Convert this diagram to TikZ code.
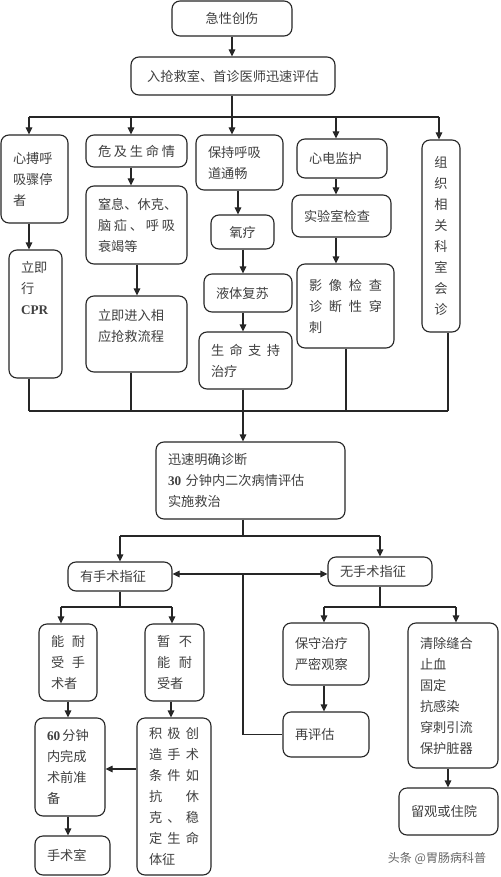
\documentclass[tikz,border=0pt]{standalone}
\usepackage{fontspec}
\setmainfont{Noto Sans CJK SC}
\newfontfamily\latserif{Liberation Serif}
\usetikzlibrary{arrows.meta}
\newcommand\J[1]{\makebox[\linewidth][s]{#1}}
\newcommand\lat[1]{{\latserif\bfseries #1}}
\tikzset{
  >={Triangle[length=7pt,width=6.5pt]},
  box/.style={draw=black!85, line width=1.1pt, rounded corners=8pt, inner xsep=12pt, inner ysep=0pt,
    font=\fontsize{13.2}{21}\selectfont, text=black!75, align=left},
  ln/.style={draw=black!85, line width=1.1pt},
  arr/.style={ln, ->},
}
\begin{document}
\begin{tikzpicture}[x=1pt,y=-1pt]
\useasboundingbox[fill=white] (0,0) rectangle (500,877);
% top
\node[box, minimum width=120pt, minimum height=35pt, align=center, text width=96pt] (a) at (232,18.5) {急性创伤};
\node[box, minimum width=204pt, minimum height=38pt, align=center, text width=180pt] (b) at (233,76) {入抢救室、首诊医师迅速评估};
% column 1
\node[box, minimum width=67pt, minimum height=88pt, text width=43pt] (c1) at (34.5,179) {心搏呼\\吸骤停\\者};
\node[box, minimum width=53pt, minimum height=128pt, text width=29pt] (d1) at (35.5,314) {立即\\行\\\lat{CPR}\rule[-52pt]{0pt}{52pt}};
% column 2
\node[box, minimum width=101pt, minimum height=32pt, text width=77pt] (c2) at (136.5,151) {\J{危\hfil 及\hfil 生\hfil 命\hfil 情}};
\node[box, minimum width=101pt, minimum height=78pt, text width=77pt] (e2) at (136.5,225) {窒息、休克、\\\J{脑\hfil 疝\hfil 、\hfil 呼\hfil 吸}\\衰竭等};
\node[box, minimum width=101pt, minimum height=76pt, text width=77pt] (f2) at (136.5,334) {立即进入相\\应抢救流程\rule[-18pt]{0pt}{18pt}};
% column 3
\node[box, minimum width=87pt, minimum height=55pt, text width=63pt] (c3) at (239.5,162.5) {保持呼吸\\道通畅};
\node[box, minimum width=63pt, minimum height=34pt, text width=39pt, align=center] (g3) at (242.5,232) {氧疗};
\node[box, minimum width=88pt, minimum height=38pt, text width=64pt] (h3) at (248,293) {液体复苏};
\node[box, minimum width=93pt, minimum height=57pt, text width=69pt] (i3) at (245.5,360.5) {\J{生\hfil 命\hfil 支\hfil 持}\\治疗};
% column 4
\node[box, minimum width=90pt, minimum height=39pt, text width=66pt] (c4) at (342,158.5) {心电监护};
\node[box, minimum width=99pt, minimum height=42pt, text width=75pt] (j4) at (341.5,216) {实验室检查};
\node[box, minimum width=97pt, minimum height=84pt, text width=73pt] (k4) at (345.5,306) {\J{影\hfil 像\hfil 检\hfil 查}\\\J{诊\hfil 断\hfil 性\hfil 穿}\\刺};
% column 5
\node[box, minimum width=38pt, minimum height=192pt, text width=20pt, inner xsep=9pt, align=center] (c5) at (441,236) {组\\织\\相\\关\\科\\室\\会\\诊};
% diagnosis
\node[box, minimum width=189pt, minimum height=77pt, text width=165pt] (diag) at (250.5,480.5) {迅速明确诊断\\\lat{30} 分钟内二次病情评估\\实施救治};
\node[box, minimum width=104pt, minimum height=29pt, text width=80pt] (yes) at (120,576.5) {有手术指征};
\node[box, minimum width=104pt, minimum height=29pt, text width=80pt] (no) at (380,571.5) {无手术指征};
% lower left
\node[box, minimum width=58pt, minimum height=77pt, text width=34pt] (n1) at (68,662.5) {\J{能\hfil 耐}\\\J{受\hfil 手}\\术者};
\node[box, minimum width=59pt, minimum height=77pt, text width=35pt] (n2) at (174.5,662.5) {\J{暂\hfil 不}\\\J{能\hfil 耐}\\受者};
\node[box, minimum width=70pt, minimum height=98pt, text width=46pt] (p1) at (70,767) {\lat{60}\,分钟\\内完成\\术前准\\备};
\node[box, minimum width=74pt, minimum height=157pt, text width=50pt] (p2) at (174,796.5) {\J{积\hfil 极\hfil 创}\\\J{造\hfil 手\hfil 术}\\\J{条\hfil 件\hfil 如}\\\J{抗\hfil 休}\\\J{克\hfil 、\hfil 稳}\\\J{定\hfil 生\hfil 命}\\体征};
\node[box, minimum width=75pt, minimum height=39pt, text width=51pt] (q1) at (72.5,855.5) {手术室};
% lower right
\node[box, minimum width=86pt, minimum height=62pt, text width=62pt] (s1) at (326,654) {保守治疗\\严密观察};
\node[box, minimum width=86pt, minimum height=45pt, text width=62pt] (s2) at (326,734.5) {再评估};
\node[box, minimum width=90pt, minimum height=145pt, text width=66pt] (t1) at (453,695.5) {清除缝合\\止血\\固定\\抗感染\\穿刺引流\\保护脏器};
\node[box, minimum width=99pt, minimum height=47pt, text width=75pt] (t2) at (448.5,811.5) {留观或住院};
\node[font=\fontsize{12}{14}\selectfont, text=black!60, inner sep=0pt] (wm) at (437,858) {头条 @胃肠病科普};
% coordinates
\coordinate (H1) at (0,117);
\coordinate (H2) at (0,411);
\coordinate (H3) at (0,536);
\coordinate (H4) at (0,574);
\coordinate (H5) at (0,607);
\coordinate (Y1) at (0,769);
\coordinate (X1) at (29,0);
\coordinate (X2) at (131,0);
\coordinate (X2b) at (137,0);
\coordinate (X3) at (232,0);
\coordinate (X3b) at (238,0);
\coordinate (X3c) at (243,0);
\coordinate (X4) at (336,0);
\coordinate (X4b) at (346,0);
\coordinate (X5) at (439,0);
\coordinate (X5b) at (448,0);
\coordinate (X7) at (61,0);
\coordinate (X8) at (172,0);
\coordinate (X10) at (171,0);
\coordinate (X12) at (324,0);
\coordinate (X13) at (456,0);
\coordinate (M) at (243,574);
% top connectors
\draw[arr] (a.south -| X3) -- (b.north -| X3);
\draw[ln] (b.south -| X3) -- (H1 -| X3);
\draw[ln] (H1 -| X1) -- (H1 -| X5);
\draw[arr] (H1 -| X1) -- (c1.north -| X1);
\draw[arr] (H1 -| X2) -- (c2.north -| X2);
\draw[arr] (H1 -| X3) -- (c3.north -| X3);
\draw[arr] (H1 -| X4) -- (c4.north -| X4);
\draw[arr] (H1 -| X5) -- (c5.north -| X5);
% columns
\draw[arr] (c1.south -| X1) -- (d1.north -| X1);
\draw[arr] (c2.south -| X2) -- (e2.north -| X2);
\draw[arr] (e2.south -| X2b) -- (f2.north -| X2b);
\draw[arr] (c3.south -| X3b) -- (g3.north -| X3b);
\draw[arr] (g3.south -| X3c) -- (h3.north -| X3c);
\draw[arr] (h3.south -| X3c) -- (i3.north -| X3c);
\draw[arr] (c4.south -| X4) -- (j4.north -| X4);
\draw[arr] (j4.south -| X4) -- (k4.north -| X4);
% merge
\draw[ln] (d1.south -| X1) -- (H2 -| X1);
\draw[ln] (f2.south -| X2) -- (H2 -| X2);
\draw[ln] (i3.south -| X3c) -- (H2 -| X3c);
\draw[ln] (k4.south -| X4b) -- (H2 -| X4b);
\draw[ln] (c5.south -| X5b) -- (H2 -| X5b);
\draw[ln] (H2 -| X1) -- (H2 -| X5b);
\draw[arr] (H2 -| X3c) -- (diag.north -| X3c);
% split
\draw[ln] (diag.south -| X3c) -- (H3 -| X3c);
\draw[ln] (H3 -| yes) -- (H3 -| no);
\draw[arr] (H3 -| yes) -- (yes.north);
\draw[arr] (H3 -| no) -- (no.north);
\draw[ln, <->] (H4 -| yes.east) -- (H4 -| no.west);
\draw[ln] (M) |- (s2.west);
% lower left
\draw[ln] (yes.south) -- (H5 -| yes);
\draw[ln] (H5 -| X7) -- (H5 -| X8);
\draw[arr] (H5 -| X7) -- (n1.north -| X7);
\draw[arr] (H5 -| X8) -- (n2.north -| X8);
\draw[arr] (n1.south) -- (p1.north -| n1.south);
\draw[arr] (n2.south -| X10) -- (p2.north -| X10);
\draw[arr] (p2.west |- Y1) -- (p1.east |- Y1);
\draw[arr] (p1.south -| n1.south) -- (q1.north -| n1.south);
% lower right
\draw[ln] (no.south) -- (H5 -| no);
\draw[ln] (H5 -| X12) -- (H5 -| X13);
\draw[arr] (H5 -| X12) -- (s1.north -| X12);
\draw[arr] (H5 -| X13) -- (t1.north -| X13);
\draw[arr] (s1.south -| X12) -- (s2.north -| X12);
\draw[arr] (t1.south -| X5b) -- (t2.north -| X5b);
\end{tikzpicture}
\end{document}
